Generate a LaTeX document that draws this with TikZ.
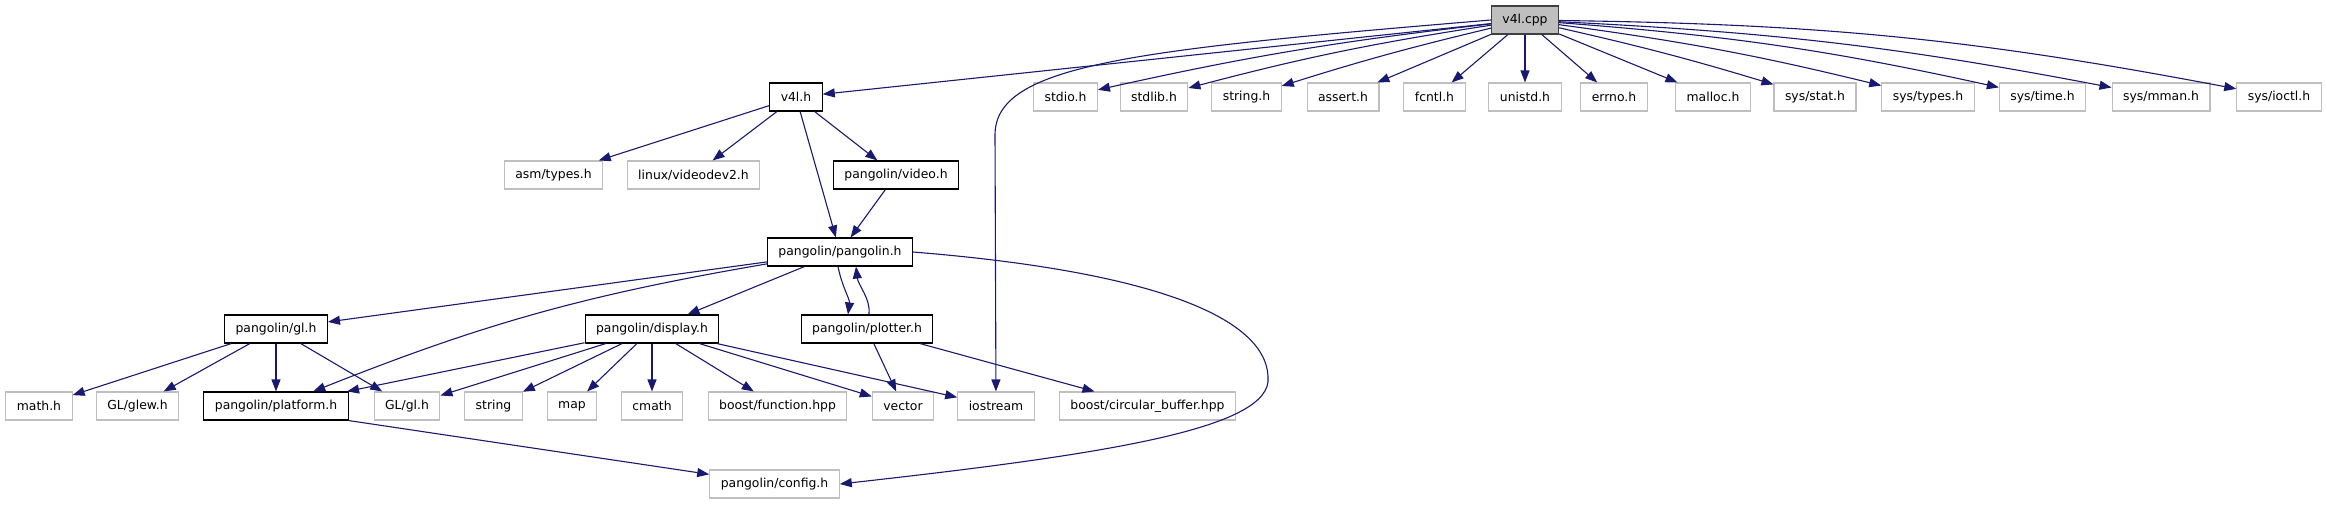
\documentclass[tikz,border=0pt]{standalone}
\usepackage{fontspec}
\setmainfont{DejaVu Sans}
\usetikzlibrary{arrows.meta}
\definecolor{edgecol}{HTML}{191970}
\definecolor{greybd}{HTML}{BFBFBF}
\begin{document}
\begin{tikzpicture}[x=1pt,y=-1pt,
  every node/.style={font=\fontsize{12.4}{14}\selectfont},
  nbase/.style={rectangle, minimum height=28pt, inner xsep=11pt, inner ysep=0pt, line width=1.1pt},
  docbox/.style={nbase, draw=black, fill=white},
  sysbox/.style={nbase, draw=greybd, fill=white},
  rootbox/.style={nbase, draw=black!75, fill=greybd},
  dep/.style={draw=edgecol, line width=1.1pt, -{Triangle[length=12pt,width=9pt]}}]
\useasboundingbox (0,0) rectangle (2327,504);

% row 1
\node[rootbox] (cpp) at (1525,20) {v4l.cpp};
% row 2
\node[docbox] (v4lh) at (796,97) {v4l.h};
\node[sysbox] (stdio) at (1065.5,97) {stdio.h};
\node[sysbox] (stdlib) at (1154,97) {stdlib.h};
\node[sysbox] (stringh) at (1246.5,97) {string.h};
\node[sysbox] (assert) at (1343,97) {assert.h};
\node[sysbox] (fcntl) at (1434.5,97) {fcntl.h};
\node[sysbox] (unistd) at (1525,97) {unistd.h};
\node[sysbox] (errno) at (1614,97) {errno.h};
\node[sysbox] (malloc) at (1713,97) {malloc.h};
\node[sysbox] (sysstat) at (1815,97) {sys/stat.h};
\node[sysbox] (systypes) at (1928,97) {sys/types.h};
\node[sysbox] (systime) at (2042.5,97) {sys/time.h};
\node[sysbox] (sysmman) at (2161,97) {sys/mman.h};
\node[sysbox] (sysioctl) at (2279,97) {sys/ioctl.h};
% row 3
\node[sysbox] (asm) at (553.5,175) {asm/types.h};
\node[sysbox] (vdev) at (693.5,175) {linux/videodev2.h};
\node[docbox] (video) at (896,175) {pangolin/video.h};
% row 4
\node[docbox] (pp) at (840,252) {pangolin/pangolin.h};
% row 5
\node[docbox] (gl) at (276,329) {pangolin/gl.h};
\node[docbox] (disp) at (652,329) {pangolin/display.h};
\node[docbox] (plot) at (867,329) {pangolin/plotter.h};
% row 6
\node[sysbox] (math) at (39,406) {math.h};
\node[sysbox] (glew) at (137.5,406) {GL/glew.h};
\node[docbox] (plat) at (276,406) {pangolin/platform.h};
\node[sysbox] (glgl) at (407,406) {GL/gl.h};
\node[sysbox] (str) at (493.5,406) {string};
\node[sysbox] (map) at (572,406) {map};
\node[sysbox] (cmath) at (652,406) {cmath};
\node[sysbox] (bfunc) at (777.5,406) {boost/function.hpp};
\node[sysbox] (vector) at (903,406) {vector};
\node[sysbox] (ios) at (996,406) {iostream};
\node[sysbox] (bcirc) at (1147.5,406) {boost/circular\_buffer.hpp};
% row 7
\node[sysbox] (cfg) at (774.5,484) {pangolin/config.h};

% edges from v4l.cpp
\draw[dep] (cpp) -- (v4lh);
\draw[dep] (cpp) to[bend right=3] (stdio);
\draw[dep] (cpp) to[bend right=3] (stdlib);
\draw[dep] (cpp) to[bend right=2] (stringh);
\draw[dep] (cpp) -- (assert);
\draw[dep] (cpp) -- (fcntl);
\draw[dep] (cpp) -- (unistd);
\draw[dep] (cpp) -- (errno);
\draw[dep] (cpp) -- (malloc);
\draw[dep] (cpp) to[bend left=2] (sysstat);
\draw[dep] (cpp) to[bend left=3] (systypes);
\draw[dep] (cpp) to[bend left=4] (systime);
\draw[dep] (cpp) to[bend left=4] (sysmman);
\draw[dep] (cpp) to[bend left=5] (sysioctl);
\coordinate (iosbend) at (995,135);
\draw[dep] (cpp.west) .. controls (1130,50) and (995,65) .. (iosbend) -- (ios);

% v4l.h
\draw[dep] (v4lh) -- (asm);
\draw[dep] (v4lh) -- (vdev);
\draw[dep] (v4lh) -- (video);
\draw[dep] (v4lh) -- (pp);
\draw[dep] (video) -- (pp);

% pangolin.h
\draw[dep] (pp) -- (gl);
\draw[dep] (pp) to[bend right=6] (plat);
\draw[dep] (pp) -- (disp);
\draw[dep] ([xshift=-2pt]pp.south) .. controls ([xshift=2pt,yshift=-20pt]pp.south) and ([xshift=-17pt,yshift=15pt]plot.north) .. ([xshift=-19pt]plot.north);
\draw[dep] ([xshift=2pt]plot.north) .. controls ([xshift=4pt,yshift=15pt]plot.north) and ([xshift=18pt,yshift=-18pt]pp.south) .. ([xshift=16pt]pp.south);
\coordinate (cfgbend) at (1268,382);
\draw[dep] (pp.east) .. controls (1160,272) and (1272,320) .. (cfgbend) .. controls (1262,430) and (1100,455) .. (cfg.east);

% gl.h
\draw[dep] (gl) -- (math);
\draw[dep] (gl) -- (glew);
\draw[dep] (gl) -- (plat);
\draw[dep] (gl) -- (glgl);

% display.h
\draw[dep] (disp) -- (plat);
\draw[dep] (disp) -- (glgl);
\draw[dep] (disp) -- (str);
\draw[dep] (disp) -- (map);
\draw[dep] (disp) -- (cmath);
\draw[dep] (disp) -- (bfunc);
\draw[dep] (disp) -- (vector);
\draw[dep] (disp) -- (ios);

% plotter.h
\draw[dep] (plot) -- (vector);
\draw[dep] (plot) -- (bcirc);

% platform.h
\draw[dep] (plat.south east) -- (cfg);
\end{tikzpicture}
\end{document}
